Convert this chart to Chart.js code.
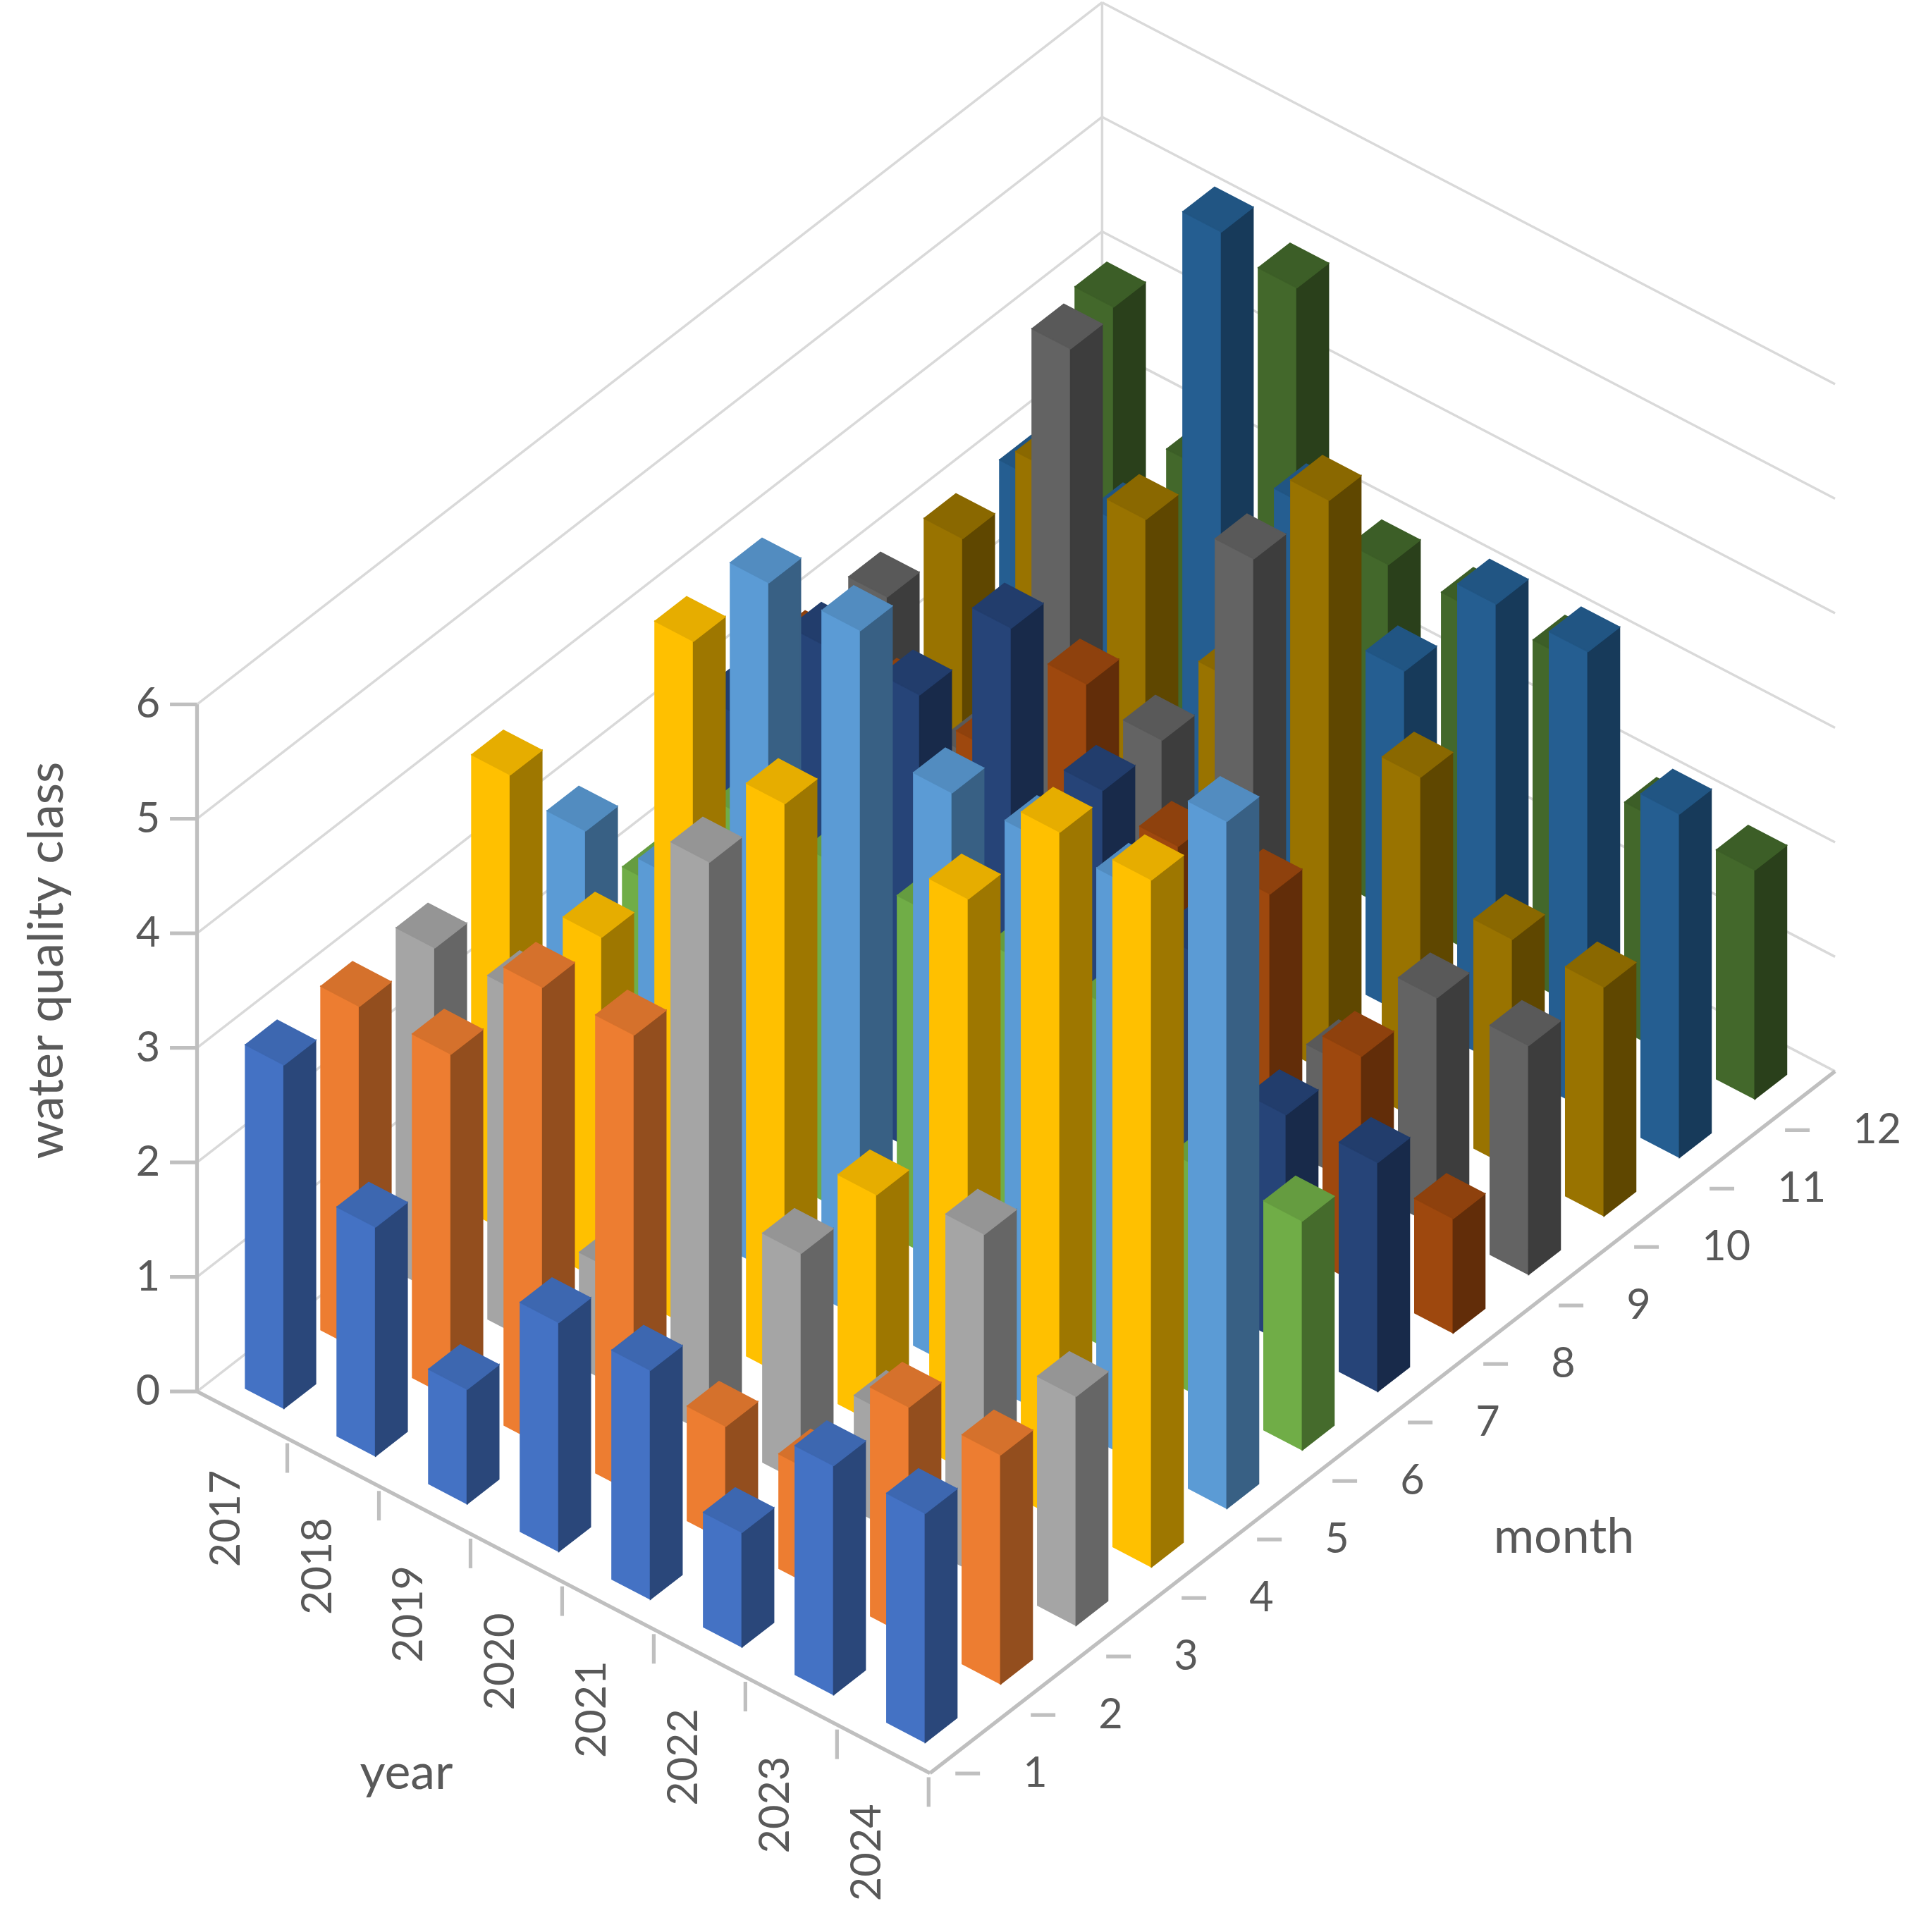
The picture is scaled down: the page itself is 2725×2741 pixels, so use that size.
<!DOCTYPE html>
<html>
<head>
<meta charset="utf-8">
<script src="https://cdn.jsdelivr.net/npm/chart.js@4.4.1/dist/chart.umd.min.js"></script>
<style>
  html, body { margin: 0; padding: 0; background: #fff; }
  #wrap { width: 2725px; height: 2741px; }
</style>
</head>
<body>
<div id="wrap"><canvas id="chart"></canvas></div>
<script>
// ---------- data ----------
const years = ['2017', '2018', '2019', '2020', '2021', '2022', '2023', '2024'];
const months = ['1', '2', '3', '4', '5', '6', '7', '8', '9', '10', '11', '12'];
const valueTicks = [0, 1, 2, 3, 4, 5, 6];

// one array per month, values per year 2017..2024
const m1 = [3, 2, 1, 2, 2, 1, 2, 2];
const m2 = [3, 3, 4, 4, 1, 1, 2, 2];
const m3 = [3, 3, 1, 5, 2, 1, 3, 2];
const m4 = [4, 3, 6, 5, 2, 5, 6, 6];
const m5 = [3, 3, 6, 6, 5, 5, 5, 6];
const m6 = [2, 3, 3, 3, 3, 3, 2, 2];
const m7 = [3, 4, 4, 5, 4, 3, 2, 2];
const m8 = [3, 3, 3, 4, 3, 3, 2, 1];
const m9 = [3, 2, 6, 3, 5, 1, 2, 2];
const m10 = [3, 4, 4, 3, 5, 3, 2, 2];
const m11 = [3, 3, 6, 4, 3, 4, 4, 3];
const m12 = [4, 3, 5, 3, 3, 3, 2, 2];
const monthValues = [m1, m2, m3, m4, m5, m6, m7, m8, m9, m10, m11, m12];

const monthColors = ['#4472C4', '#ED7D31', '#A5A5A5', '#FFC000', '#5B9BD5', '#70AD47',
                     '#264478', '#9E480E', '#636363', '#997300', '#255E91', '#43682B'];

// ---------- projection (in chart units) ----------
const W = 1560, H = 1569;
function proj(yr, mo, z) {
    return {
        x: 160 + yr * 74.4 + mo * 61.25,
        y: 1130 + yr * 38.75 - mo * 47.5 - z * 93
    };
}

function shade(hex, f) {
    let r = parseInt(hex.substr(1, 2), 16), g = parseInt(hex.substr(3, 2), 16), b = parseInt(hex.substr(5, 2), 16);
    r = Math.min(255, Math.round(r * f)); g = Math.min(255, Math.round(g * f)); b = Math.min(255, Math.round(b * f));
    return 'rgb(' + r + ',' + g + ',' + b + ')';
}

const datasets = monthValues.map((vals, j) => ({
    label: months[j],
    data: vals.map((v, i) => {
        const p = proj(i + 0.5, j + 0.5, v);
        return { x: p.x, y: p.y, v: v, yr: i, mo: j };
    }),
    pointRadius: 0,
    backgroundColor: monthColors[j]
}));

const bars3d = {
    id: 'bars3d',
    afterDatasetsDraw(chart) {
        const ctx = chart.ctx;
        const sx = chart.scales.x, sy = chart.scales.y;
        const k = chart.width / W;
        const P = (yr, mo, z) => { const p = proj(yr, mo, z); return [sx.getPixelForValue(p.x), sy.getPixelForValue(p.y)]; };
        const poly = (pts, fill, stroke) => {
            ctx.beginPath();
            ctx.moveTo(pts[0][0], pts[0][1]);
            for (let i = 1; i < pts.length; i++) ctx.lineTo(pts[i][0], pts[i][1]);
            ctx.closePath();
            if (fill) { ctx.fillStyle = fill; ctx.fill(); }
            if (stroke) { ctx.strokeStyle = stroke; ctx.stroke(); }
        };
        const line = (a, b) => { ctx.beginPath(); ctx.moveTo(a[0], a[1]); ctx.lineTo(b[0], b[1]); ctx.stroke(); };

        ctx.save();
        // walls
        ctx.strokeStyle = '#d9d9d9';
        ctx.lineWidth = 2 * k;
        valueTicks.forEach(t => {
            line(P(0, 0, t), P(0, 12, t));
            line(P(0, 12, t), P(8, 12, t));
        });
        line(P(0, 12, 0), P(0, 12, 6));

        // axes
        ctx.strokeStyle = '#bfbfbf';
        ctx.lineWidth = 3 * k;
        line(P(0, 0, 0), P(0, 0, 6));
        line(P(0, 0, 0), P(8, 0, 0));
        line(P(8, 0, 0), P(8, 12, 0));
        valueTicks.forEach(t => {
            const p = P(0, 0, t);
            line([p[0] - 22 * k, p[1]], [p[0], p[1]]);
        });

        // bars, back to front
        const list = [];
        monthValues.forEach((vals, j) => vals.forEach((v, i) => list.push({ i, j, v })));
        list.sort((a, b) => (a.i - a.j) - (b.i - b.j));
        ctx.lineWidth = 1 * k;
        list.forEach(b => {
            const a0 = b.i + 0.29, a1 = b.i + 0.71, b0 = b.j + 0.29, b1 = b.j + 0.71;
            const c = monthColors[b.j];
            poly([P(a0, b0, 0), P(a1, b0, 0), P(a1, b0, b.v), P(a0, b0, b.v)], c, c);
            poly([P(a1, b0, 0), P(a1, b1, 0), P(a1, b1, b.v), P(a1, b0, b.v)], shade(c, 0.62), shade(c, 0.62));
            poly([P(a0, b0, b.v), P(a1, b0, b.v), P(a1, b1, b.v), P(a0, b1, b.v)], shade(c, 0.9), shade(c, 0.9));
        });

        // tick marks for year and month
        ctx.strokeStyle = '#bfbfbf';
        ctx.lineWidth = 3 * k;
        years.forEach((y, i) => {
            const p = P(i + 1.15, -0.2, 0);
            line([p[0], p[1] - 12 * k], [p[0], p[1] + 12 * k]);
        });
        months.forEach((m, j) => {
            const p = P(8, j + 0.5, 0);
            line([p[0] - 10 * k, p[1] + 24 * k], [p[0] + 10 * k, p[1] + 24 * k]);
        });

        // labels
        ctx.fillStyle = '#595959';
        ctx.font = (34 * k) + 'px Lato, "Open Sans", sans-serif';
        ctx.textBaseline = 'middle';
        ctx.textAlign = 'right';
        valueTicks.forEach(t => {
            const p = P(0, 0, t);
            ctx.fillText(String(t), p[0] - 30 * k, p[1]);
        });
        years.forEach((y, i) => {
            const p = P(i + 0.85, -0.65, 0);
            ctx.save();
            ctx.translate(p[0], p[1]);
            ctx.rotate(-Math.PI / 2);
            ctx.textAlign = 'right';
            ctx.fillText(y, 0, 0);
            ctx.restore();
        });
        ctx.textAlign = 'left';
        months.forEach((m, j) => {
            const p = P(8, j + 0.5, 0);
            ctx.fillText(m, p[0] + 45 * k, p[1] + 24 * k);
        });

        ctx.font = (40 * k) + 'px Lato, "Open Sans", sans-serif';
        ctx.textAlign = 'center';
        ctx.fillText('month', sx.getPixelForValue(1270), sy.getPixelForValue(1248));
        ctx.fillText('year', sx.getPixelForValue(330), sy.getPixelForValue(1440));
        ctx.save();
        ctx.translate(sx.getPixelForValue(38), sy.getPixelForValue(780));
        ctx.rotate(-Math.PI / 2);
        ctx.fillText('water quality class', 0, 0);
        ctx.restore();
        ctx.restore();
    }
};

new Chart(document.getElementById('chart'), {
    type: 'scatter',
    data: { datasets: datasets },
    options: {
        responsive: true,
        maintainAspectRatio: false,
        animation: false,
        layout: { padding: 0 },
        scales: {
            x: { type: 'linear', min: 0, max: W, display: false },
            y: { type: 'linear', min: 0, max: H, reverse: true, display: false }
        },
        plugins: { legend: { display: false }, tooltip: { enabled: false } }
    },
    plugins: [bars3d]
});
</script>
</body>
</html>
